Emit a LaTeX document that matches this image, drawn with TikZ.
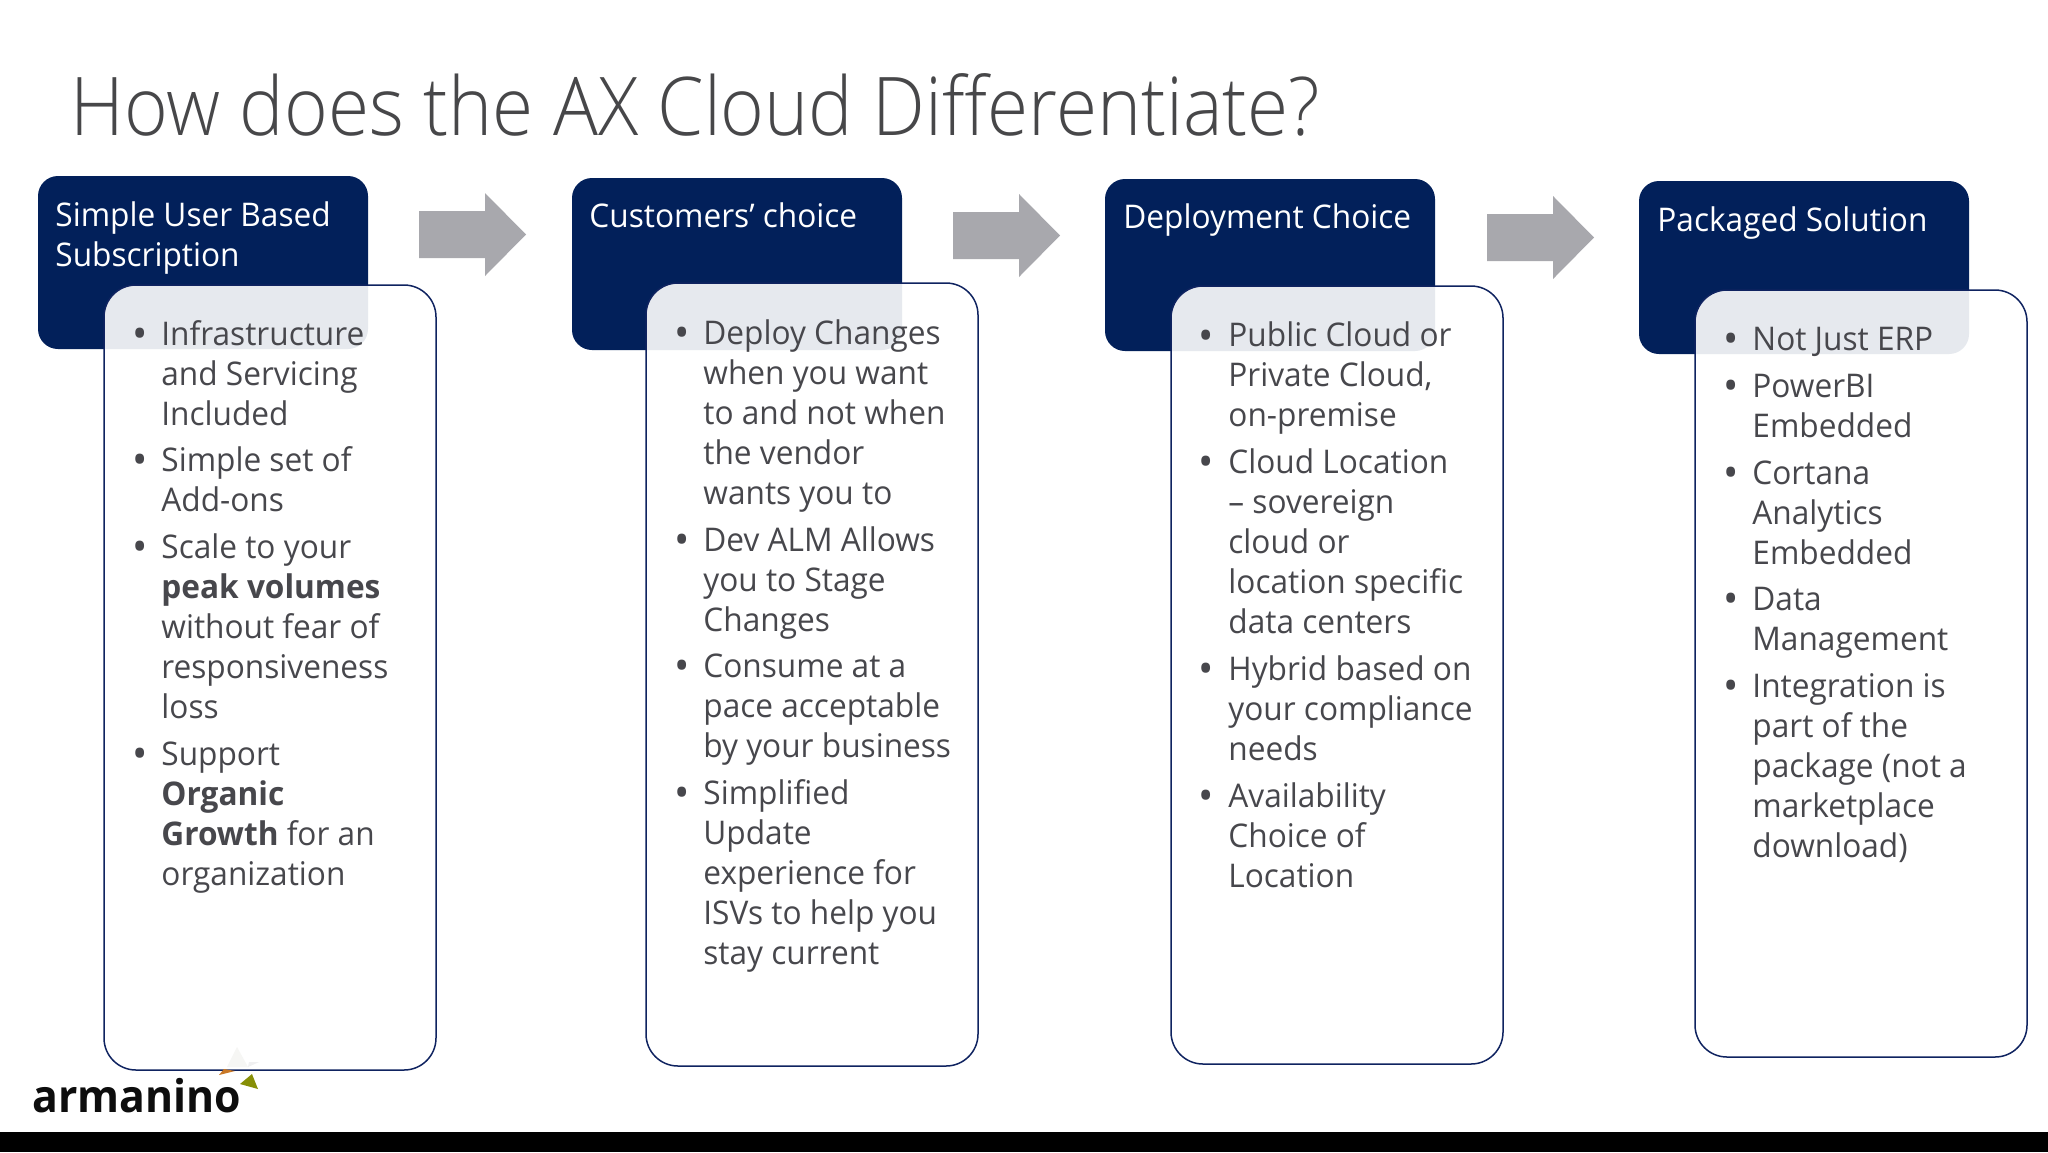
\documentclass[tikz,border=0pt]{standalone}
\usepackage{fontspec}
\setmainfont[FakeStretch=0.97]{Open Sans}
\newfontfamily\titlefont[FakeStretch=0.923]{Open Sans Light}
\newfontfamily\logofont[FakeStretch=0.95]{Open Sans}
\definecolor{navy}{HTML}{02205A}
\definecolor{edge}{HTML}{0F2360}
\definecolor{inktext}{HTML}{47474C}
\definecolor{titlegray}{HTML}{474749}
\definecolor{arrowgray}{HTML}{A8A8AD}
\newcommand{\Lines}[1]{\begin{tabular}[t]{@{}l@{}}#1\end{tabular}}
% name, bullet x, text x, baseline y, lines
\newcommand{\bitem}[5]{%
  \node[bodytext] (#1b) at (#2,#4+3.5) {\fontsize{21}{20}\selectfont •};
  \node[bodytext] (#1) at (#3,#4) {\Lines{#5}};}
\newcommand{\blockarrow}[3]{% name, left x, top y
  \fill[arrowgray] (#2,#3+18) -- ++(66,0) -- ++(0,-18) -- ++(41,41.5) -- ++(-41,41.5) -- ++(0,-18) -- ++(-66,0) -- cycle;
  \coordinate (#1) at (#2,#3);}
\tikzset{
  hdrbox/.style={fill=navy,rounded corners=10pt},
  bodybox/.style={draw=edge,line width=0.75pt,fill=white,fill opacity=0.9,rounded corners=16pt},
  hdrtext/.style={anchor=base west,inner sep=0pt,text=white,font=\fontsize{16.3}{20}\selectfont},
  bodytext/.style={anchor=base west,inner sep=0pt,text=inktext,font=\fontsize{16.3}{20}\selectfont},
}
\begin{document}
\begin{tikzpicture}[x=0.5pt,y=-0.5pt]
\useasboundingbox (0,0) rectangle (2048,1152);
\fill[white] (0,0) rectangle (2048,1152);
\fill[black] (0,1132) rectangle (2048,1152);
\node[anchor=base west,inner sep=0pt,text=titlegray,font=\titlefont\fontsize{40.5}{48}\selectfont] (title) at (70,135.5) {How does the AX Cloud Differentiate?};

% headers
\fill[hdrbox] (38,176) rectangle (368,349);
\fill[hdrbox] (572,178) rectangle (902,350);
\fill[hdrbox] (1105,179) rectangle (1435,351);
\fill[hdrbox] (1639,181) rectangle (1969,354);

% arrows
\blockarrow{arrA}{419}{193}
\blockarrow{arrB}{953}{194}
\blockarrow{arrC}{1487}{196}

% bodies
\draw[bodybox] (104,285) rectangle (436,1070);
\draw[bodybox] (646,283) rectangle (978,1066);
\draw[bodybox] (1171,286) rectangle (1503,1064);
\draw[bodybox] (1695,290) rectangle (2027,1057);

% logo
\fill[orange!75!black!85] (219,1075) -- (224,1069) -- (235,1071) -- cycle;
\fill[olive!85!green] (240,1084) -- (252,1074) -- (258,1089) -- cycle;
\fill[yellow!20!black!5] (237,1047) -- (227,1067) -- (248,1067) -- cycle;
\fill[blue!10!black!6] (248,1067) -- (259,1062) -- (249,1062) -- cycle;
\node[anchor=base west,inner sep=0pt,text=black!95,font=\logofont\bfseries\fontsize{22.5}{24}\selectfont] (logo) at (32,1112) {armanino};

% header text
\node[hdrtext] (hA) at (55,226) {\Lines{Simple User Based\\Subscription}};
\node[hdrtext] (hB) at (589,227) {Customers’ choice};
\node[hdrtext] (hC) at (1123,228) {Deployment Choice};
\node[hdrtext] (hD) at (1657,231) {Packaged Solution};

% column 1
\bitem{a1}{132}{161}{345}{Infrastructure\\and Servicing\\Included}
\bitem{a2}{132}{161}{471}{Simple set of\\Add-ons}
\bitem{a3}{132}{161}{558}{Scale to your\\\textbf{peak volumes}\\without fear of\\responsiveness\\loss}
\bitem{a4}{132}{161}{765}{Support\\\textbf{Organic}\\\textbf{Growth} for an\\organization}

% column 2
\bitem{b1}{674}{703}{344}{Deploy Changes\\when you want\\to and not when\\the vendor\\wants you to}
\bitem{b2}{674}{703}{551}{Dev ALM Allows\\you to Stage\\Changes}
\bitem{b3}{674}{703}{677}{Consume at a\\pace acceptable\\by your business}
\bitem{b4}{674}{703}{804}{Simplified\\Update\\experience for\\ISVs to help you\\stay current}

% column 3
\bitem{c1}{1198}{1228}{346.5}{Public Cloud or\\Private Cloud,\\on-premise}
\bitem{c2}{1198}{1228}{473}{Cloud Location\\– sovereign\\cloud or\\location specific\\data centers}
\bitem{c3}{1198}{1228}{680}{Hybrid based on\\your compliance\\needs}
\bitem{c4}{1198}{1228}{807}{Availability\\Choice of\\Location}

% column 4
\bitem{d1}{1723}{1752}{350}{Not Just ERP}
\bitem{d2}{1723}{1752}{397}{PowerBI\\Embedded}
\bitem{d3}{1723}{1752}{484}{Cortana\\Analytics\\Embedded}
\bitem{d4}{1723}{1752}{610}{Data\\Management}
\bitem{d5}{1723}{1752}{697}{Integration is\\part of the\\package (not a\\marketplace\\download)}
\end{tikzpicture}
\end{document}
